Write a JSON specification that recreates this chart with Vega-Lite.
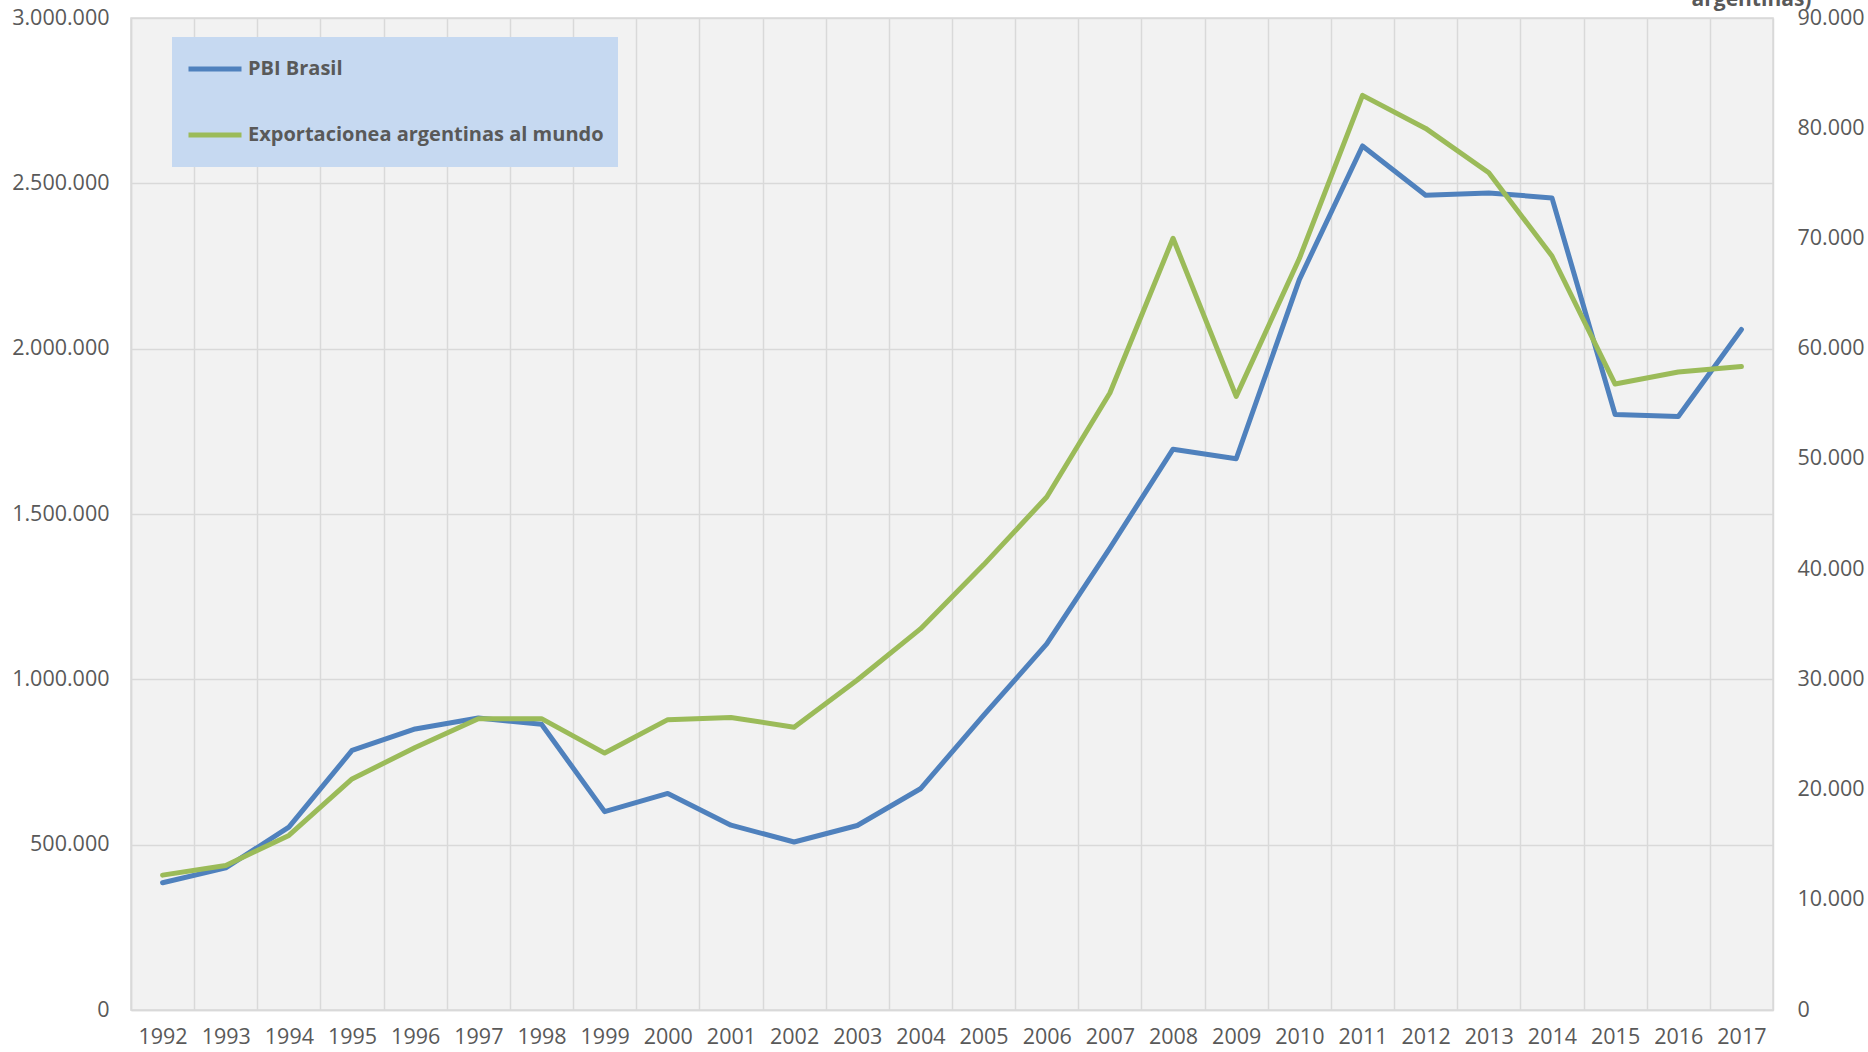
{
  "$schema": "https://vega.github.io/schema/vega-lite/v6.json",
  "autosize": "none",
  "width": 1642,
  "height": 992,
  "padding": {"left": 131, "top": 18, "right": 95, "bottom": 42},
  "background": "white",
  "config": {
    "locale": {"number": {"decimal": ",", "thousands": ".", "grouping": [3], "currency": ["$", ""]}},
    "view": {"fill": "#f2f2f2", "stroke": "#d9d9d9", "strokeWidth": 1.5},
    "font": "Open Sans",
    "axis": {"labelFont": "Open Sans", "labelColor": "#595959", "labelFontSize": 21.5, "gridColor": "#d9d9d9", "gridWidth": 1.5, "ticks": false, "domainColor": "#d9d9d9", "domainWidth": 1.5}
  },
  "data": {"values": [
    {"year": "1992", "pbi": 385000, "expo": 12235},
    {"year": "1993", "pbi": 430000, "expo": 13118},
    {"year": "1994", "pbi": 553000, "expo": 15839},
    {"year": "1995", "pbi": 785000, "expo": 20963},
    {"year": "1996", "pbi": 850000, "expo": 23811},
    {"year": "1997", "pbi": 883000, "expo": 26431},
    {"year": "1998", "pbi": 864000, "expo": 26434},
    {"year": "1999", "pbi": 600000, "expo": 23309},
    {"year": "2000", "pbi": 655000, "expo": 26341},
    {"year": "2001", "pbi": 559000, "expo": 26543},
    {"year": "2002", "pbi": 508000, "expo": 25651},
    {"year": "2003", "pbi": 558000, "expo": 29939},
    {"year": "2004", "pbi": 669000, "expo": 34576},
    {"year": "2005", "pbi": 891000, "expo": 40387},
    {"year": "2006", "pbi": 1107000, "expo": 46546},
    {"year": "2007", "pbi": 1397000, "expo": 55980},
    {"year": "2008", "pbi": 1696000, "expo": 70019},
    {"year": "2009", "pbi": 1667000, "expo": 55672},
    {"year": "2010", "pbi": 2209000, "expo": 68174},
    {"year": "2011", "pbi": 2613000, "expo": 82981},
    {"year": "2012", "pbi": 2464000, "expo": 79982},
    {"year": "2013", "pbi": 2471000, "expo": 75963},
    {"year": "2014", "pbi": 2456000, "expo": 68407},
    {"year": "2015", "pbi": 1801000, "expo": 56788},
    {"year": "2016", "pbi": 1795000, "expo": 57879},
    {"year": "2017", "pbi": 2058000, "expo": 58384}
  ]},
  "encoding": {
    "x": {
      "field": "year", "type": "ordinal", "bandPosition": 0.5,
      "scale": {"type": "band", "paddingInner": 0, "paddingOuter": 0},
      "axis": {"title": null, "labelAngle": 0, "labelPadding": 16, "tickBand": "extent", "grid": true, "domain": true}
    }
  },
  "layer": [
    {
      "mark": {"type": "line", "strokeWidth": 5, "strokeCap": "round", "strokeJoin": "round"},
      "encoding": {
        "y": {"field": "pbi", "type": "quantitative",
          "scale": {"domain": [0, 3000000], "nice": false},
          "axis": {"title": null, "values": [0, 500000, 1000000, 1500000, 2000000, 2500000, 3000000], "format": ",d", "labelPadding": 22, "grid": true, "domain": true}},
        "color": {"datum": "PBI Brasil", "type": "nominal",
          "scale": {"domain": ["PBI Brasil", "Exportacionea argentinas al mundo"], "range": ["#4f81bd", "#9bbb59"]},
          "legend": {
            "title": null, "orient": "none", "legendX": 41, "legendY": 19,
            "fillColor": "#c6d9f1", "padding": 14, "clipHeight": 36, "rowPadding": 30,
            "symbolType": "stroke", "symbolSize": 2809, "symbolStrokeWidth": 5,
            "labelOffset": 4, "labelFont": "Open Sans", "labelFontWeight": "bold", "labelFontSize": 20, "labelColor": "#595959", "labelLimit": 500
          }}
      }
    },
    {
      "mark": {"type": "line", "strokeWidth": 5, "strokeCap": "round", "strokeJoin": "round"},
      "encoding": {
        "y": {"field": "expo", "type": "quantitative",
          "scale": {"domain": [0, 90000], "nice": false},
          "axis": {"orient": "right", "values": [0, 10000, 20000, 30000, 40000, 50000, 60000, 70000, 80000, 90000], "format": ",d", "labelPadding": 24, "grid": false, "domain": false,
            "title": "argentinas)", "titleAngle": 0, "titleX": -22, "titleY": -13, "titleAlign": "center", "titleBaseline": "alphabetic", "titleFont": "Open Sans", "titleFontSize": 21, "titleFontWeight": "bold", "titleColor": "#595959"}},
        "color": {"datum": "Exportacionea argentinas al mundo", "type": "nominal"}
      }
    }
  ],
  "resolve": {"scale": {"y": "independent"}}
}
